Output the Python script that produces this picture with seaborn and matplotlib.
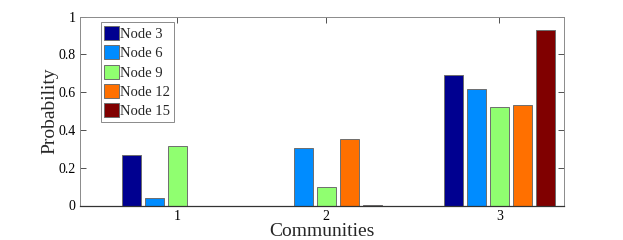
import pandas as pd
import matplotlib
matplotlib.use("Agg")
import matplotlib.pyplot as plt
import seaborn as sns

# data
communities = ["1", "2", "3"]
community_pos = [1.0, 2.0, 3.162]   # group centres are not evenly spaced in the original
nodes = ["Node 3", "Node 6", "Node 9", "Node 12", "Node 15"]
node3 = [0.265, 0.0, 0.690]
node6 = [0.041, 0.302, 0.617]
node9 = [0.313, 0.098, 0.521]
node12 = [0.0, 0.354, 0.530]
node15 = [0.0, 0.005, 0.930]
colors = ["#000090", "#008CFF", "#90FF70", "#FF7000", "#800000"]

records = []
for name, vals in zip(nodes, [node3, node6, node9, node12, node15]):
    for pos, v in zip(community_pos, vals):
        records.append({"pos": pos, "prob": v, "node": name})
df = pd.DataFrame(records)

sns.set_theme(style="ticks")
plt.rcParams["font.family"] = ["Liberation Serif", "DejaVu Serif"]

fig = plt.figure(figsize=(6.23, 2.40), dpi=100)
ax = fig.add_axes([80 / 623, 1 - 205.5 / 240, 484 / 623, 188.8 / 240])

sns.barplot(data=df, x="pos", y="prob", hue="node", hue_order=nodes,
            native_scale=True, palette=colors, saturation=1,
            width=0.772, gap=0.17,
            edgecolor="#6e6e6e", linewidth=0.7, errorbar=None, ax=ax)

ax.set_xlim(0.346, 3.596)
ax.set_ylim(0, 1)
ax.set_xticks(community_pos)
ax.set_xticklabels(communities)
ax.set_yticks([0, 0.2, 0.4, 0.6, 0.8, 1])
ax.set_yticklabels(["0", "0.2", "0.4", "0.6", "0.8", "1"])
ax.tick_params(direction="in", length=4, width=0.6, top=True, right=True,
               labelsize=10, colors="#333333", labelcolor="black", pad=3)
ax.set_xlabel("Communities", fontsize=14, labelpad=0)
ax.set_ylabel("Probability", fontsize=14, labelpad=0)

for side in ["top", "right", "left"]:
    ax.spines[side].set_color("#8a8a8a")
    ax.spines[side].set_linewidth(0.7)
ax.spines["bottom"].set_color("#333333")
ax.spines["bottom"].set_linewidth(0.9)

leg = ax.legend(loc="upper left", bbox_to_anchor=(0.0428, 0.970),
                borderaxespad=0, fontsize=10.5, frameon=True, fancybox=False,
                framealpha=1, edgecolor="#8a8a8a", handlelength=1.0,
                handleheight=1.1, handletextpad=0.1, labelspacing=0.3,
                borderpad=0.25)
leg.get_frame().set_linewidth(0.7)

fig.savefig("out.png", dpi=100)
plt.close(fig)
